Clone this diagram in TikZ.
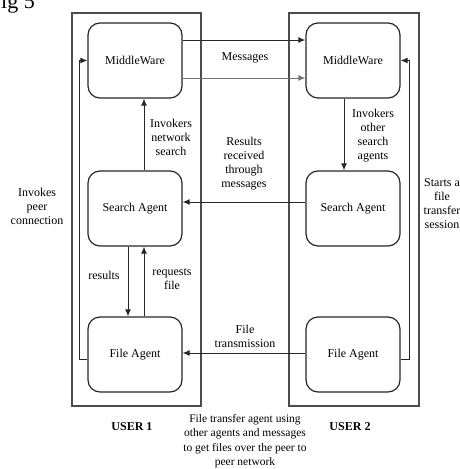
\documentclass[tikz,border=0pt]{standalone}
\usepackage{fontspec}
\setmainfont{Liberation Serif}
\usetikzlibrary{arrows.meta}
\begin{document}
\begin{tikzpicture}[x=1pt,y=-1pt,
  box/.style={draw=black!85,line width=1.2pt,rounded corners=12pt,minimum width=94pt,minimum height=75pt,inner sep=0pt,font=\fontsize{12}{14}\selectfont},
  user/.style={draw=black!70,line width=1.3pt},
  arr/.style={draw=black!85,line width=1pt,-{Latex[length=7pt,width=6pt]}},
  lbl/.style={align=center,font=\fontsize{12}{14}\selectfont,inner sep=0pt},
  ttl/.style={font=\fontsize{12}{14}\selectfont\bfseries,inner sep=0pt}]
\useasboundingbox (0,0) rectangle (459,469);
\node[anchor=base east,inner sep=0pt,font=\fontsize{22}{24}\selectfont] (fig) at (35,8) {Fig 5};
% user frames
\draw[user] (72,13) rectangle (201,406);
\draw[user] (289,13) rectangle (419,406);
% nodes
\node[box] (mw1) at (135,60.5) {MiddleWare};
\node[box] (sa1) at (135,208.5) {Search Agent};
\node[box] (fa1) at (135,354.5) {File Agent};
\node[box] (mw2) at (353,60.5) {MiddleWare};
\node[box] (sa2) at (353,208.5) {Search Agent};
\node[box] (fa2) at (353,354.5) {File Agent};
% messages
\draw[arr] (mw1.east |- 0,40) -- (mw2.west |- 0,40);
\draw[arr,draw=black!55] (mw1.east |- 0,78) -- (mw2.west |- 0,78);
\node[lbl] (msg) at (245,58) {Messages};
% invokers network search
\draw[arr] (sa1.north -| 144,0) -- (mw1.south -| 144,0);
\node[lbl] (ins) at (171,137) {Invokers\\network\\search};
% invokers other search agents
\draw[arr] (mw2.south -| 344,0) -- (sa2.north -| 344,0);
\node[lbl] (ios) at (373,136) {Invokers\\other\\search\\agents};
% results received
\draw[arr] (sa2.west |- 0,202) -- (sa1.east |- 0,202);
\node[lbl] (rrm) at (244,163.5) {Results\\received\\through\\messages};
% results / requests
\draw[arr] (sa1.south -| 128,0) -- (fa1.north -| 128,0);
\draw[arr] (fa1.north -| 144,0) -- (sa1.south -| 144,0);
\node[lbl] (res) at (104,275) {results};
\node[lbl] (req) at (172,279.5) {requests\\file};
% file transmission
\draw[arr] (fa2.west |- 0,353) -- (fa1.east |- 0,353);
\node[lbl] (ftr) at (245,336) {File\\transmission};
% invokes peer connection
\coordinate (pl) at (79,359);
\draw[arr] (fa1.west |- 0,359) -- (pl) |- (mw1.west);
\node[lbl] (ipc) at (37,206) {Invokes\\peer\\connection};
% starts a file transfer session
\coordinate (pr) at (409,359);
\draw[arr] (fa2.east |- 0,359) -- (pr) |- (mw2.east);
\node[lbl] (sfs) at (442,204) {Starts a\\file\\transfer\\session};
% titles
\node[ttl] (t1) at (132,427) {USER 1};
\node[ttl] (t2) at (350,427) {USER 2};
\node[lbl,font=\fontsize{11.5}{14.5}\selectfont] (cap) at (245,441) {File transfer agent using\\other agents and messages\\to get files over the peer to\\peer network};
\end{tikzpicture}
\end{document}
